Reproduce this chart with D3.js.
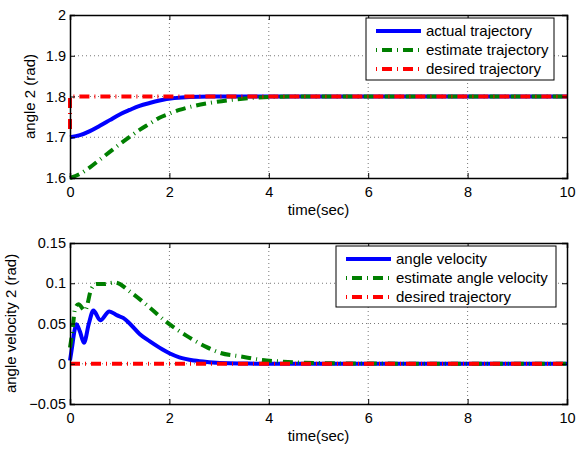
<!DOCTYPE html>
<html>
<head>
<meta charset="utf-8">
<script src="https://cdn.jsdelivr.net/npm/d3@7"></script>
<style>
  body { margin: 0; background: #fff; }
  svg text { font-family: "Liberation Sans", Arial, sans-serif; fill: #000; }
</style>
</head>
<body>
<svg id="chart" width="576" height="449"></svg>
<script>
// top plot: angle 2
var angTime = [0, 0.2, 0.4, 0.6, 0.8, 1.0, 1.2, 1.4, 1.6, 1.8, 2.1, 2.4, 2.8, 3.5, 10];
var angActual = [1.700, 1.705, 1.715, 1.728, 1.742, 1.756, 1.767, 1.777, 1.784, 1.790, 1.796, 1.799, 1.800, 1.800, 1.800];

var angEstTime = [0, 0.2, 0.4, 0.6, 0.8, 1.0, 1.2, 1.4, 1.6, 1.8, 2.0, 2.2, 2.5, 2.8, 3.2, 3.6, 4.0, 4.5, 5, 10];
var angEstimate = [1.600, 1.610, 1.626, 1.645, 1.664, 1.683, 1.701, 1.718, 1.733, 1.748, 1.758, 1.767, 1.777, 1.784, 1.791, 1.796, 1.799, 1.800, 1.800, 1.800];

var angDesTime = [0, 0, 10];
var angDesired = [1.72, 1.8, 1.8];

// bottom plot: angle velocity 2
var velTime = [0, 0.03, 0.13, 0.2, 0.28, 0.38, 0.47, 0.61, 0.79, 0.95, 1.07, 1.2, 1.4, 1.6, 1.8, 2.0, 2.2, 2.5, 2.8, 3.2, 3.6, 4, 5, 10];
var velActual = [0.004, 0.016, 0.049, 0.040, 0.026, 0.050, 0.066, 0.054, 0.065, 0.060, 0.057, 0.050, 0.037, 0.028, 0.020, 0.013, 0.008, 0.004, 0.002, 0.0005, 0.0002, 0, 0, 0];

var velEstTime = [0, 0.05, 0.1, 0.17, 0.3, 0.43, 0.53, 0.7, 0.9, 1.24, 1.6, 1.94, 2.34, 2.74, 3.0, 3.47, 3.87, 4.2, 4.6, 5.1, 6, 10];
var velEstimate = [0.02, 0.041, 0.068, 0.074, 0.066, 0.093, 0.099, 0.099, 0.101, 0.088, 0.070, 0.052, 0.035, 0.021, 0.014, 0.0087, 0.0046, 0.003, 0.0015, 0.0007, 0.0002, 0];

var velDesTime = [0, 10];
var velDesired = [0, 0];

var xTicks = [0, 2, 4, 6, 8, 10];
var angTicks = [1.6, 1.7, 1.8, 1.9, 2];
var velTicks = [-0.05, 0, 0.05, 0.1, 0.15];

var legendTop = ["actual trajectory", "estimate trajectory", "desired trajectory"];
var legendBottom = ["angle velocity", "estimate angle velocity", "desired trajectory"];

var colors = ["#0000ff", "#007f00", "#ff0000"];
var dashes = [null, "10,5,1,5", "10,5,1,5"];

var svg = d3.select("#chart");
var X0 = 70, X1 = 567;

function zip(t, v) { return t.map(function(d, i){ return [d, v[i]]; }); }

function drawPanel(cfg) {
    var x = d3.scaleLinear().domain([0, 10]).range([X0, X1]);
    var y = d3.scaleLinear().domain(cfg.domain).range([cfg.bottom, cfg.top]);
    var g = svg.append("g");

    // dotted grid
    g.selectAll(".vg").data(xTicks.slice(1, -1)).enter().append("line")
        .attr("x1", function(d){ return x(d); }).attr("x2", function(d){ return x(d); })
        .attr("y1", cfg.top).attr("y2", cfg.bottom)
        .attr("stroke", "#555").attr("stroke-width", 0.8).attr("stroke-dasharray", "1,3");
    g.selectAll(".hg").data(cfg.ticks.slice(1, -1)).enter().append("line")
        .attr("x1", X0).attr("x2", X1)
        .attr("y1", function(d){ return y(d); }).attr("y2", function(d){ return y(d); })
        .attr("stroke", "#555").attr("stroke-width", 0.8).attr("stroke-dasharray", "1,3");

    var clipId = "clip" + cfg.id;
    svg.append("clipPath").attr("id", clipId).append("rect")
        .attr("x", X0 - 3).attr("y", cfg.top - 2).attr("width", X1 - X0 + 5).attr("height", cfg.bottom - cfg.top + 4);

    var smooth = d3.line().x(function(d){ return x(d[0]); }).y(function(d){ return y(d[1]); }).curve(d3.curveMonotoneX);
    var straight = d3.line().x(function(d){ return x(d[0]); }).y(function(d){ return y(d[1]); });

    var lines = g.append("g").attr("clip-path", "url(#" + clipId + ")");
    cfg.series.forEach(function(s, i){
        lines.append("path")
            .datum(s)
            .attr("d", i == 2 ? straight : smooth)
            .attr("fill", "none")
            .attr("stroke", colors[i])
            .attr("stroke-width", 4)
            .attr("stroke-dasharray", dashes[i]);
    });

    // axes with inward ticks on all four sides
    var ax = g.append("g").attr("transform", "translate(0," + cfg.bottom + ")")
        .call(d3.axisBottom(x).tickValues(xTicks).tickSize(-5).tickPadding(9).tickFormat(d3.format("d")));
    var axT = g.append("g").attr("transform", "translate(0," + cfg.top + ")")
        .call(d3.axisTop(x).tickValues(xTicks).tickSize(-5).tickFormat(""));
    var ay = g.append("g").attr("transform", "translate(" + X0 + ",0)")
        .call(d3.axisLeft(y).tickValues(cfg.ticks).tickSize(-5).tickPadding(4).tickFormat(cfg.fmt));
    var ayR = g.append("g").attr("transform", "translate(" + X1 + ",0)")
        .call(d3.axisRight(y).tickValues(cfg.ticks).tickSize(-5).tickFormat(""));
    [ax, axT, ay, ayR].forEach(function(a){
        a.select(".domain").attr("stroke", "#000").attr("stroke-width", 1.5);
        a.selectAll(".tick line").attr("stroke", "#000");
        a.selectAll("text").attr("font-size", 14.5).style("font-family", "Liberation Sans, Arial, sans-serif");
    });

    g.append("text").attr("x", (X0 + X1) / 2).attr("y", cfg.bottom + 37)
        .attr("text-anchor", "middle").attr("font-size", 15).text("time(sec)");
    g.append("text")
        .attr("transform", "translate(" + cfg.ylabX + "," + ((cfg.top + cfg.bottom) / 2) + ") rotate(-90)")
        .attr("text-anchor", "middle").attr("font-size", 15).text(cfg.ylabel);

    // legend
    var L = cfg.legend;
    var lg = g.append("g");
    lg.append("rect").attr("x", L.x).attr("y", L.y).attr("width", L.w).attr("height", L.h)
        .attr("fill", "#fff").attr("stroke", "#000").attr("stroke-width", 1);
    L.labels.forEach(function(t, i){
        var ry = L.y + 13 + i * 19;
        lg.append("line").attr("x1", L.x + 10).attr("x2", L.x + 55)
            .attr("y1", ry).attr("y2", ry)
            .attr("stroke", colors[i]).attr("stroke-width", 4)
            .attr("stroke-dasharray", i == 0 ? null : "1,5,10,5");
        lg.append("text").attr("x", L.x + 60).attr("y", ry + 5)
            .attr("font-size", 15).text(t);
    });
}

drawPanel({
    id: "a", top: 15, bottom: 178, domain: [1.6, 2], ticks: angTicks,
    fmt: d3.format(".1~f"), ylabel: "angle 2 (rad)", ylabX: 35,
    series: [zip(angTime, angActual), zip(angEstTime, angEstimate), zip(angDesTime, angDesired)],
    legend: { x: 366, y: 18, w: 188, h: 62, labels: legendTop }
});

drawPanel({
    id: "b", top: 243, bottom: 404, domain: [-0.05, 0.15], ticks: velTicks,
    fmt: function(d){ return d < 0 ? "\u22120.05" : d3.format("~g")(d); }, ylabel: "angle velocity 2 (rad)", ylabX: 16,
    series: [zip(velTime, velActual), zip(velEstTime, velEstimate), zip(velDesTime, velDesired)],
    legend: { x: 336, y: 246, w: 220, h: 61, labels: legendBottom }
});
</script>
</body>
</html>
